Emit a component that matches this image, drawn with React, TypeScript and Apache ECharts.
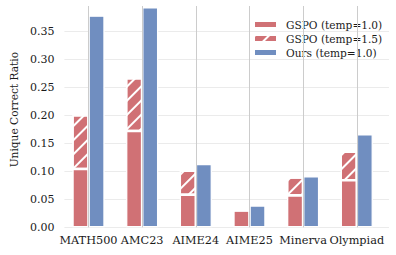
import React, { useEffect, useRef } from "react";
import * as echarts from "echarts";

const categories = ["MATH500", "AMC23", "AIME24", "AIME25", "Minerva", "Olympiad"];
const gspoTemp10 = [0.104, 0.172, 0.058, 0.03, 0.057, 0.084];
const gspoTemp15 = [0.2, 0.266, 0.101, 0.03, 0.089, 0.135];
const oursTemp10 = [0.378, 0.393, 0.113, 0.039, 0.091, 0.166];
const seriesNames = ["GSPO (temp=1.0)", "GSPO (temp=1.5)", "Ours (temp=1.0)"];
const yMin = 0;
const yMax = 0.395;
const yInterval = 0.05;

const FONT = "DejaVu Serif";
const RED = "#D07175";
const BLUE = "#708EC0";
const TEXT = "#1a1a1a";

export default function App() {
  const ref = useRef<HTMLDivElement>(null);
  useEffect(() => {
    document.body.style.margin = "0";
    if (!ref.current) return;
    const chart = echarts.init(ref.current, null, { renderer: "svg" });
    const top = 6;
    const bottom = 27.7;
    const hatchInc = gspoTemp15.map((v, i) => +(v - gspoTemp10[i]).toFixed(4));
    const nTicks = Math.floor(yMax / yInterval) + 1;
    const gridColors = [] as string[];
    for (let i = 0; i < nTicks; i++) gridColors.push("#ebebeb");
    gridColors.push("rgba(0,0,0,0)");
    const barStyle = { borderColor: "#ffffff", borderWidth: 1.3 };
    const option: any = {
      animation: false,
      backgroundColor: "#ffffff",
      textStyle: { fontFamily: FONT },
      grid: [
        { left: 61.7, right: 12.4, top, bottom },
        { left: 56, right: 7, top, bottom },
      ],
      xAxis: [
        {
          type: "category",
          gridIndex: 0,
          data: categories,
          axisLine: { show: false },
          axisTick: { show: false },
          splitLine: { show: false },
          axisLabel: { color: TEXT, fontFamily: FONT, fontSize: 11.3, margin: 8, interval: 0 },
        },
        { type: "value", gridIndex: 1, min: 0, max: 1, show: false },
      ],
      yAxis: [
        { type: "value", gridIndex: 0, min: yMin, max: yMax, interval: yInterval, show: false },
        {
          type: "value",
          gridIndex: 1,
          min: yMin,
          max: yMax,
          interval: yInterval,
          axisLine: { show: false },
          axisTick: { show: false },
          axisLabel: {
            color: TEXT,
            fontFamily: FONT,
            fontSize: 11,
            margin: 10,
            showMaxLabel: false,
            formatter: (v: number) => v.toFixed(2),
          },
          splitLine: { show: true, lineStyle: { color: gridColors, width: 1 } },
          name: "Unique Correct Ratio",
          nameLocation: "middle",
          nameRotate: 90,
          nameGap: 39,
          nameTextStyle: { color: TEXT, fontFamily: FONT, fontSize: 10.6, padding: [0, 0, 0, 14] },
        },
      ],
      legend: {
        orient: "vertical",
        left: 248,
        top: 14,
        itemWidth: 23,
        itemHeight: 7,
        itemGap: 3,
        icon: "rect",
        data: seriesNames,
        textStyle: { color: TEXT, fontFamily: FONT, fontSize: 10.6, padding: [0, 0, 0, 4] },
      },
      series: [
        {
          type: "line",
          xAxisIndex: 0,
          yAxisIndex: 0,
          data: [],
          silent: true,
          z: 1,
          markLine: {
            silent: true,
            symbol: "none",
            label: { show: false },
            lineStyle: { color: "#cccccc", width: 1, type: "solid" },
            data: categories.map((c) => ({ xAxis: c })),
          },
        },
        {
          name: seriesNames[0],
          type: "bar",
          xAxisIndex: 0,
          yAxisIndex: 0,
          stack: "gspo",
          data: gspoTemp10,
          barWidth: 16.1,
          barGap: "0%",
          z: 3,
          itemStyle: { color: RED, ...barStyle },
        },
        {
          name: seriesNames[1],
          type: "bar",
          xAxisIndex: 0,
          yAxisIndex: 0,
          stack: "gspo",
          data: hatchInc,
          barWidth: 16.1,
          barGap: "0%",
          z: 3,
          itemStyle: {
            color: RED,
            ...barStyle,
            decal: {
              symbol: "rect",
              color: "#ffffff",
              dashArrayX: [1, 0],
              dashArrayY: [1.6, 7.5],
              rotation: -Math.PI / 4,
            },
          },
        },
        {
          name: seriesNames[2],
          type: "bar",
          xAxisIndex: 0,
          yAxisIndex: 0,
          data: oursTemp10,
          barWidth: 16.1,
          barGap: "0%",
          z: 3,
          itemStyle: { color: BLUE, ...barStyle },
        },
      ],
    };
    chart.setOption(option);
    return () => chart.dispose();
  }, []);
  return <div ref={ref} style={{ width: 396, height: 255 }} />;
}
